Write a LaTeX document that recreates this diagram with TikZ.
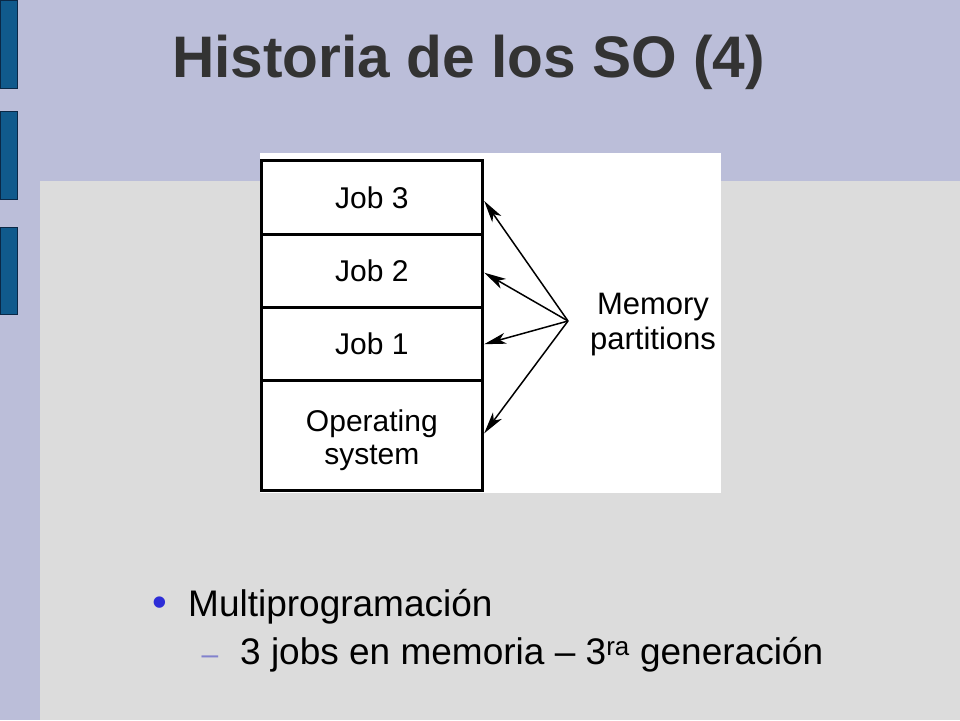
\documentclass[tikz,border=0pt]{standalone}
\usepackage{fontspec}
\setmainfont{Liberation Sans}
\usetikzlibrary{arrows.meta, positioning, calc}

\definecolor{topband}{RGB}{187,190,217}
\definecolor{slidegray}{RGB}{220,220,220}
\definecolor{barblue}{RGB}{16,90,140}
\definecolor{bardark}{RGB}{10,40,70}
\definecolor{titlegray}{RGB}{51,51,51}
\definecolor{dotblue}{RGB}{45,45,215}
\definecolor{dashblue}{RGB}{130,130,205}

\tikzset{
  part/.style={draw, line width=3pt, minimum width=221.7pt, inner sep=0pt,
    align=center, font=\fontsize{30}{33}\selectfont},
  arr/.style={-{Stealth[length=22pt, width=11pt, inset=6pt]}, line width=1.5pt},
  sidebar/.style={fill=barblue, draw=bardark, line width=1pt}
}

\begin{document}
\begin{tikzpicture}[x=1pt, y=-1pt]
% Slide background
\useasboundingbox (0,0) rectangle (960,720);
\fill[topband] (0,0) rectangle (960,720);
\fill[slidegray] (40,181) rectangle (960,720);
\draw[sidebar] (0,0) rectangle (17,88);
\draw[sidebar] (0,111) rectangle (17,199);
\draw[sidebar] (0,227) rectangle (17,314);

% Title
\node[anchor=base west, inner sep=0pt, text=titlegray,
  font=\fontsize{58.6}{66}\selectfont\bfseries] (title) at (172,77.5) {Historia de los SO (4)};

% Figure
\fill[white] (260,153) rectangle (721,493);
\node[part, minimum height=74pt] (job3) at (371.85,197.7) {Job 3};
\node[part, minimum height=73pt] (job2) at (371.85,271.2) {Job 2};
\node[part, minimum height=73pt] (job1) at (371.85,344.2) {Job 1};
\node[part, minimum height=109.3pt] (os) at (371.85,435.35) {\rule{0pt}{31pt}Operating\\system};

\node[align=center, inner sep=0pt, font=\fontsize{31}{35}\selectfont] (mem) at (653,325) {Memory\\partitions};
\coordinate (hub) at (568,321);

\draw[arr] (hub) -- ($(job3.east)+(0,3.3)$);
\draw[arr] (hub) -- ($(job2.east)+(0,1.5)$);
\draw[arr] (hub) -- (job1.east);
\draw[arr] (hub) -- ($(os.east)+(0,-2)$);

% Bullets
\node[anchor=base, inner sep=0pt, text=dotblue, font=\fontsize{42}{46}\selectfont] (dot) at (160,616.5) {•};
\node[anchor=base west, inner sep=0pt, font=\fontsize{37}{44}\selectfont] (item) at (188,616) {Multiprogramación};
\node[anchor=base, inner sep=0pt, text=dashblue, font=\fontsize{30}{34}\selectfont] (dash) at (210,664.5) {–};
\node[anchor=base west, inner sep=0pt, font=\fontsize{37}{44}\selectfont] (subitem) at (240,664.5)
  {3 jobs en memoria – 3\textsuperscript{ra} generación};
\end{tikzpicture}
\end{document}
